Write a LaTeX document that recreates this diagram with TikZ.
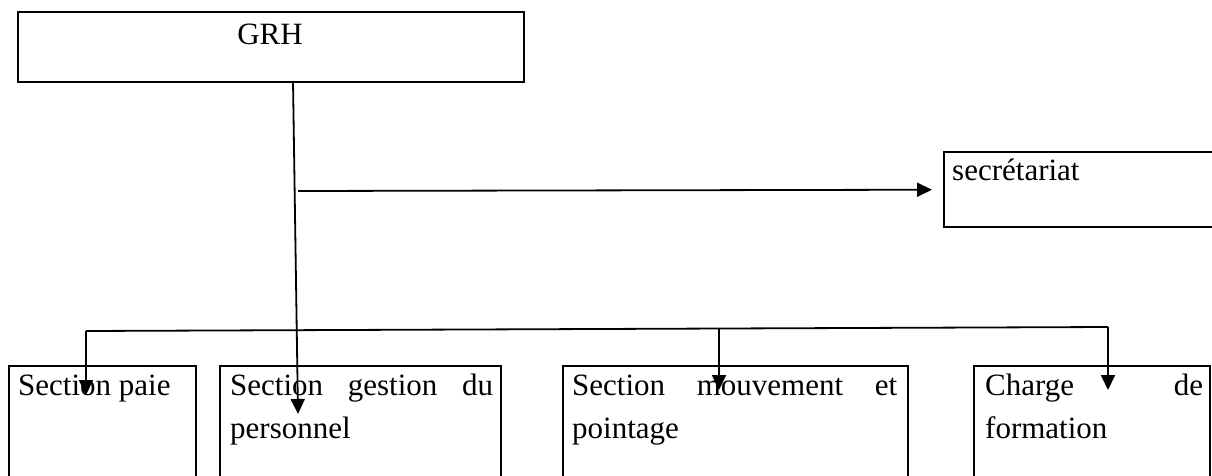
\documentclass[tikz,border=0pt]{standalone}
\usepackage{fontspec}
\setmainfont{Liberation Serif}
\usetikzlibrary{arrows.meta}
\begin{document}
\begin{tikzpicture}[x=1pt,y=-1pt]
\tikzset{
  box/.style={draw, line width=2.4pt, rectangle, anchor=north west, inner sep=0pt},
  conn/.style={line width=1.8pt},
  arr/.style={conn, -{Triangle[length=15pt,width=14pt]}},
  lbl/.style={inner sep=0pt, font=\fontsize{31}{43}\selectfont, anchor=base west},
}
\useasboundingbox (0,0) rectangle (1212,476);
\clip (0,0) rectangle (1212,476);
\fill[white] (0,0) rectangle (1212,476);

% boxes
\node[box, minimum width=506pt, minimum height=70pt] (grh) at (17,11) {};
\node[box, minimum width=290pt, minimum height=75pt] (sec) at (943,151) {};
\node[box, minimum width=187pt, minimum height=140pt] (paie) at (8,365) {};
\node[box, minimum width=281pt, minimum height=140pt] (gest) at (219,365) {};
\node[box, minimum width=345pt, minimum height=140pt] (mouv) at (562,365) {};
\node[box, minimum width=236pt, minimum height=140pt] (form) at (973,365) {};

% texts
\node[lbl, anchor=base] (tgrh) at (270,45) {GRH};
\node[lbl] (tsec) at (952,180) {secrétariat};
\node[lbl] (tpaie) at (18,395) {Section paie};
\node[lbl] (tgest1) at (230,395) {\makebox[263pt][l]{Section\hfill gestion\hfill du}};
\node[lbl] (tgest2) at (230,438) {personnel};
\node[lbl] (tmouv1) at (572,395) {\makebox[325pt][l]{Section\hfill mouvement\hfill et}};
\node[lbl] (tmouv2) at (572,438) {pointage};
\node[lbl] (tform1) at (985,395) {\makebox[218pt][l]{Charge\hfill de}};
\node[lbl] (tform2) at (985,438) {formation};

% connectors
\coordinate (trunktop) at (293,81);
\coordinate (trunkend) at (298,414);
\draw[arr] (trunktop) -- (trunkend);

\coordinate (secstart) at (298,191);
\draw[arr, shorten >=11pt] (secstart) -- (sec.west);

\coordinate (busL) at (86,331);
\coordinate (busM) at (719,329);
\coordinate (busR) at (1108,327);
\coordinate (paietip) at (86,395);
\coordinate (mouvtip) at (719,390);
\coordinate (formtip) at (1108,390);
\draw[conn] (busL) -- (busR);
\draw[arr] (busL) -- (paietip);
\draw[arr] (busM) -- (mouvtip);
\draw[arr] (busR) -- (formtip);
\end{tikzpicture}
\end{document}
